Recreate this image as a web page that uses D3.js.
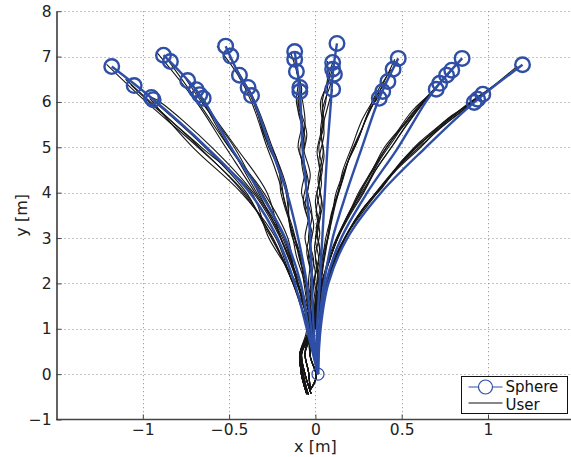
<!DOCTYPE html>
<html>
<head>
<meta charset="utf-8">
<script src="https://cdn.jsdelivr.net/npm/d3@7"></script>
<style>
  body { margin: 0; background: #fff; }
  text { font-family: "DejaVu Sans", Verdana, sans-serif; }
</style>
</head>
<body>
<div id="chart"></div>
<script>
// tick values
var xTicks = [-1, -0.5, 0, 0.5, 1];
var yTicks = [-1, 0, 1, 2, 3, 4, 5, 6, 7, 8];

// sphere start point
var sphereStart = [0.015, 0];

// sphere paths, one per target direction (x, y in m)
var spherePaths = [
    [[0.015, 0], [-0.05, 1], [-0.12, 2], [-0.22, 3], [-0.38, 4], [-0.63, 5], [-0.96, 6.12], [-1.18, 6.78]],
    [[0.015, 0], [-0.04, 1], [-0.085, 2], [-0.175, 3], [-0.32, 4], [-0.49, 5], [-0.67, 6.16], [-0.88, 7.03]],
    [[0.015, 0], [-0.025, 1], [-0.05, 2], [-0.10, 3], [-0.165, 4], [-0.26, 5], [-0.37, 6.14], [-0.44, 6.59], [-0.52, 7.23]],
    [[0.015, 0], [-0.01, 1], [-0.02, 2], [-0.03, 3], [-0.05, 4], [-0.075, 5], [-0.09, 6.23], [-0.12, 7.11]],
    [[0.015, 0], [0.01, 1], [0.025, 2], [0.04, 3], [0.055, 4], [0.07, 5], [0.09, 6], [0.10, 6.6], [0.125, 7.29]],
    [[0.015, 0], [0.02, 1], [0.05, 2], [0.10, 3], [0.18, 4], [0.27, 5], [0.37, 6.08], [0.48, 6.96]],
    [[0.015, 0], [0.025, 1], [0.06, 2], [0.15, 3], [0.30, 4], [0.48, 5], [0.64, 6], [0.72, 6.41], [0.85, 6.96]],
    [[0.015, 0], [0.03, 1], [0.075, 2], [0.185, 3], [0.38, 4], [0.64, 5], [0.92, 5.99], [1.2, 6.82]]
];

// sphere end points of every trial
var sphereEnds = [
    [-1.18, 6.78], [-1.05, 6.36], [-0.95, 6.10], [-0.94, 6.05],
    [-0.88, 7.03], [-0.84, 6.89], [-0.74, 6.47], [-0.69, 6.27], [-0.67, 6.16], [-0.65, 6.08],
    [-0.52, 7.23], [-0.49, 7.01], [-0.44, 6.59], [-0.39, 6.32], [-0.37, 6.14],
    [-0.12, 7.11], [-0.12, 6.94], [-0.11, 6.67], [-0.09, 6.32], [-0.09, 6.23],
    [0.125, 7.29], [0.10, 6.87], [0.10, 6.72], [0.11, 6.61], [0.10, 6.28],
    [0.48, 6.96], [0.45, 6.72], [0.42, 6.45], [0.39, 6.23], [0.37, 6.08],
    [0.85, 6.96], [0.79, 6.70], [0.76, 6.59], [0.72, 6.41], [0.70, 6.28],
    [1.20, 6.82], [0.97, 6.17], [0.94, 6.06], [0.92, 5.99]
];

// user trajectories, grouped by target
var userG1 = [
    [[-0.04, -0.45], [-0.075, -0.05], [-0.09, 0.45], [-0.05, 1], [-0.09, 1.6], [-0.13, 2], [-0.25, 3], [-0.41, 4], [-0.68, 5], [-0.98, 6], [-1.21, 6.83]],
    [[-0.03, -0.38], [-0.04, 0.05], [-0.06, 0.45], [-0.04, 1], [-0.07, 1.5], [-0.11, 2], [-0.27, 3], [-0.37, 4], [-0.66, 5], [-0.95, 5.95], [-1.07, 6.38]],
    [[-0.05, -0.44], [-0.085, 0.1], [-0.075, 0.6], [-0.03, 1.1], [-0.08, 1.6], [-0.14, 2.1], [-0.23, 3], [-0.43, 4], [-0.71, 5], [-0.96, 6.08]],
    [[-0.03, -0.35], [0.005, -0.05], [-0.03, 0.4], [-0.045, 0.95], [-0.1, 1.7], [-0.2, 2.6], [-0.3, 3.3], [-0.40, 4], [-0.64, 5], [-0.94, 6.03]],
    [[-0.025, -0.43], [-0.06, 0], [-0.08, 0.45], [-0.04, 1], [-0.085, 1.5], [-0.15, 2.2], [-0.26, 3.1], [-0.44, 4.1], [-0.7, 5.1], [-0.97, 6.05], [-1.1, 6.5]],
    [[-0.04, -0.45], [-0.075, -0.05], [-0.09, 0.45], [-0.035, 1.05], [-0.07, 1.6], [-0.12, 2.2], [-0.21, 3.05], [-0.36, 4], [-0.6, 5], [-0.9, 6], [-0.96, 6.12]]
];
var userG2 = [
    [[-0.04, -0.45], [-0.075, -0.05], [-0.09, 0.45], [-0.03, 1], [-0.06, 1.5], [-0.1, 2], [-0.19, 3], [-0.35, 4], [-0.52, 5], [-0.69, 6], [-0.92, 7.1]],
    [[-0.03, -0.38], [-0.04, 0.05], [-0.06, 0.45], [-0.03, 1.05], [-0.08, 1.7], [-0.12, 2.2], [-0.16, 3], [-0.3, 4], [-0.50, 5], [-0.68, 6], [-0.85, 6.9]],
    [[-0.05, -0.44], [-0.085, 0.1], [-0.075, 0.6], [-0.025, 1], [-0.05, 1.5], [-0.09, 2], [-0.2, 3], [-0.33, 4], [-0.47, 5], [-0.66, 6], [-0.75, 6.5]],
    [[-0.03, -0.35], [0.005, -0.05], [-0.03, 0.4], [-0.04, 1], [-0.07, 1.6], [-0.13, 2.3], [-0.21, 3.1], [-0.28, 4], [-0.46, 5], [-0.65, 6], [-0.7, 6.28]],
    [[-0.025, -0.43], [-0.06, 0], [-0.08, 0.45], [-0.035, 1], [-0.06, 1.5], [-0.1, 2], [-0.17, 2.9], [-0.31, 4], [-0.5, 5], [-0.67, 6.16]],
    [[-0.045, -0.4], [-0.07, 0], [-0.085, 0.4], [-0.03, 0.95], [-0.065, 1.55], [-0.11, 2.1], [-0.18, 3], [-0.34, 4], [-0.49, 5], [-0.65, 6.08]]
];
var userG3 = [
    [[-0.04, -0.45], [-0.075, -0.05], [-0.09, 0.45], [-0.03, 1], [-0.04, 1.5], [-0.06, 2], [-0.11, 2.6], [-0.13, 3], [-0.19, 4], [-0.24, 4.6], [-0.28, 5], [-0.37, 6], [-0.45, 6.6], [-0.57, 7.23]],
    [[-0.03, -0.38], [-0.04, 0.05], [-0.06, 0.45], [-0.025, 1], [-0.05, 1.6], [-0.07, 2.1], [-0.09, 2.6], [-0.14, 3.1], [-0.17, 4], [-0.22, 4.7], [-0.25, 5], [-0.35, 6], [-0.5, 7]],
    [[-0.05, -0.44], [-0.085, 0.1], [-0.075, 0.6], [-0.02, 1], [-0.03, 1.5], [-0.05, 2], [-0.09, 2.5], [-0.12, 3], [-0.2, 4], [-0.21, 4.5], [-0.27, 5], [-0.36, 6], [-0.44, 6.59]],
    [[-0.03, -0.35], [0.005, -0.05], [-0.03, 0.4], [-0.03, 0.95], [-0.045, 1.6], [-0.06, 2.2], [-0.1, 2.8], [-0.15, 3.3], [-0.16, 4], [-0.23, 4.8], [-0.3, 5.3], [-0.35, 6], [-0.39, 6.32]],
    [[-0.025, -0.43], [-0.06, 0], [-0.08, 0.45], [-0.02, 1.05], [-0.035, 1.5], [-0.055, 2], [-0.08, 2.4], [-0.13, 3.2], [-0.18, 3.8], [-0.2, 4.3], [-0.26, 5], [-0.33, 5.7], [-0.37, 6.14]]
];
var userG4 = [
    [[-0.04, -0.45], [-0.075, -0.05], [-0.09, 0.45], [-0.03, 1], [-0.02, 1.5], [-0.04, 2], [-0.03, 2.5], [-0.06, 3], [-0.04, 3.5], [-0.08, 4], [-0.06, 4.5], [-0.1, 5], [-0.08, 5.5], [-0.11, 6], [-0.1, 6.5], [-0.145, 7.1]],
    [[-0.03, -0.38], [-0.04, 0.05], [-0.06, 0.45], [-0.025, 1], [-0.035, 1.6], [-0.02, 2.1], [-0.05, 2.7], [-0.03, 3.2], [-0.07, 3.8], [-0.05, 4.3], [-0.09, 4.9], [-0.07, 5.4], [-0.1, 6], [-0.09, 6.4], [-0.12, 6.94]],
    [[-0.05, -0.44], [-0.085, 0.1], [-0.075, 0.6], [-0.02, 1], [-0.04, 1.5], [-0.01, 2], [-0.04, 2.6], [-0.02, 3.1], [-0.06, 3.7], [-0.04, 4.2], [-0.07, 4.8], [-0.05, 5.3], [-0.09, 5.9], [-0.08, 6.3], [-0.11, 6.67]],
    [[-0.03, -0.35], [0.005, -0.05], [-0.03, 0.4], [-0.03, 0.95], [-0.01, 1.5], [-0.03, 2], [-0.01, 2.5], [-0.04, 3], [-0.02, 3.5], [-0.05, 4.1], [-0.08, 4.7], [-0.06, 5.2], [-0.1, 5.8], [-0.09, 6.32]],
    [[-0.025, -0.43], [-0.06, 0], [-0.08, 0.45], [-0.02, 1.05], [-0.03, 1.6], [0, 2.2], [-0.03, 2.8], [-0.01, 3.3], [-0.05, 3.9], [-0.03, 4.4], [-0.07, 5], [-0.06, 5.6], [-0.085, 6.23]]
];
var userG5 = [
    [[-0.04, -0.45], [-0.075, -0.05], [-0.09, 0.45], [-0.02, 1], [0, 1.5], [-0.01, 2], [0.02, 2.5], [0, 3], [0.03, 3.5], [0.01, 4], [0.04, 4.5], [0.02, 5], [0.05, 5.5], [0.04, 6], [0.07, 6.5], [0.07, 6.9]],
    [[-0.03, -0.38], [-0.04, 0.05], [-0.06, 0.45], [-0.02, 1], [0.01, 1.6], [-0.005, 2.1], [0.025, 2.7], [0.005, 3.2], [0.035, 3.8], [0.015, 4.3], [0.045, 4.9], [0.03, 5.4], [0.06, 6], [0.08, 6.6], [0.10, 6.87]],
    [[-0.05, -0.44], [-0.085, 0.1], [-0.075, 0.6], [-0.015, 1], [-0.005, 1.5], [0.015, 2.2], [-0.005, 2.8], [0.02, 3.3], [0, 3.8], [0.03, 4.4], [0.01, 4.9], [0.04, 5.5], [0.03, 6], [0.07, 6.4], [0.10, 6.72]],
    [[-0.03, -0.35], [0.005, -0.05], [-0.03, 0.4], [-0.025, 0.95], [0.005, 1.5], [0.02, 2], [0, 2.6], [0.025, 3.1], [0.005, 3.6], [0.035, 4.2], [0.02, 4.7], [0.05, 5.3], [0.04, 5.8], [0.08, 6.3], [0.11, 6.61]],
    [[-0.025, -0.43], [-0.06, 0], [-0.08, 0.45], [-0.02, 1.05], [0, 1.6], [0.01, 2.1], [0.03, 2.6], [0.01, 3.2], [0.04, 3.7], [0.02, 4.2], [0.05, 4.8], [0.035, 5.3], [0.065, 5.8], [0.10, 6.28]]
];
var userG6 = [
    [[-0.04, -0.45], [-0.075, -0.05], [-0.09, 0.45], [-0.02, 1], [0, 1.5], [0.02, 2], [0.04, 2.5], [0.06, 3], [0.1, 3.6], [0.12, 4], [0.17, 4.5], [0.22, 5], [0.28, 5.5], [0.34, 6], [0.38, 6.3], [0.46, 6.94]],
    [[-0.03, -0.38], [-0.04, 0.05], [-0.06, 0.45], [-0.015, 1], [0.01, 1.6], [0.03, 2.1], [0.05, 2.6], [0.08, 3.1], [0.1, 3.6], [0.14, 4.1], [0.18, 4.6], [0.24, 5.1], [0.29, 5.6], [0.34, 6.1], [0.44, 6.72]],
    [[-0.05, -0.44], [-0.085, 0.1], [-0.075, 0.6], [-0.01, 1], [0.005, 1.5], [0.025, 2], [0.035, 2.5], [0.07, 3], [0.09, 3.5], [0.13, 4], [0.16, 4.5], [0.21, 5], [0.27, 5.6], [0.33, 6], [0.41, 6.45]],
    [[-0.03, -0.35], [0.005, -0.05], [-0.03, 0.4], [-0.02, 0.95], [0.01, 1.5], [0.03, 2.1], [0.06, 2.7], [0.08, 3.2], [0.11, 3.7], [0.15, 4.2], [0.19, 4.7], [0.25, 5.2], [0.3, 5.7], [0.38, 6.23]],
    [[-0.025, -0.43], [-0.06, 0], [-0.08, 0.45], [-0.01, 1.05], [0.015, 1.6], [0.04, 2.2], [0.055, 2.7], [0.09, 3.3], [0.12, 3.8], [0.16, 4.3], [0.2, 4.8], [0.26, 5.3], [0.31, 5.8], [0.36, 6.08]]
];
var userG7 = [
    [[-0.04, -0.45], [-0.075, -0.05], [-0.09, 0.45], [-0.015, 1], [0.01, 1.5], [0.04, 2], [0.08, 2.5], [0.13, 3], [0.2, 3.5], [0.28, 4], [0.35, 4.5], [0.44, 5], [0.53, 5.5], [0.63, 6], [0.72, 6.4], [0.85, 6.96]],
    [[-0.03, -0.38], [-0.04, 0.05], [-0.06, 0.45], [-0.01, 1], [0.02, 1.6], [0.05, 2.1], [0.1, 2.7], [0.15, 3.2], [0.22, 3.7], [0.27, 4.1], [0.36, 4.7], [0.43, 5.1], [0.54, 5.6], [0.65, 6.1], [0.79, 6.7]],
    [[-0.05, -0.44], [-0.085, 0.1], [-0.075, 0.6], [-0.005, 1], [0.015, 1.5], [0.035, 2], [0.07, 2.4], [0.12, 2.9], [0.19, 3.5], [0.25, 4], [0.33, 4.5], [0.4, 5], [0.51, 5.5], [0.6, 5.9], [0.76, 6.59]],
    [[-0.03, -0.35], [0.005, -0.05], [-0.03, 0.4], [-0.01, 0.95], [0.02, 1.5], [0.045, 2.1], [0.09, 2.6], [0.14, 3.1], [0.2, 3.6], [0.3, 4.2], [0.37, 4.7], [0.46, 5.2], [0.55, 5.7], [0.72, 6.41]],
    [[-0.025, -0.43], [-0.06, 0], [-0.08, 0.45], [-0.005, 1.05], [0.025, 1.6], [0.05, 2.2], [0.1, 2.8], [0.16, 3.3], [0.23, 3.8], [0.29, 4.2], [0.38, 4.8], [0.45, 5.2], [0.56, 5.8], [0.70, 6.28]],
    [[-0.045, -0.4], [-0.07, 0], [-0.085, 0.4], [-0.01, 1], [0.015, 1.55], [0.04, 2.05], [0.085, 2.55], [0.13, 3.05], [0.21, 3.6], [0.29, 4.1], [0.34, 4.45], [0.45, 5.05], [0.52, 5.45], [0.66, 6.15], [0.81, 6.8]]
];
var userG8 = [
    [[-0.04, -0.45], [-0.075, -0.05], [-0.09, 0.45], [-0.01, 1], [0.02, 1.5], [0.065, 2], [0.105, 2.5], [0.17, 3], [0.26, 3.5], [0.36, 4], [0.47, 4.5], [0.61, 5], [0.74, 5.5], [0.87, 5.9], [0.98, 6.2], [1.17, 6.79]],
    [[-0.03, -0.38], [-0.04, 0.05], [-0.06, 0.45], [-0.005, 1], [0.025, 1.6], [0.07, 2.1], [0.125, 2.6], [0.185, 3.1], [0.27, 3.6], [0.35, 4], [0.48, 4.6], [0.6, 5.1], [0.76, 5.6], [0.97, 6.17]],
    [[-0.05, -0.44], [-0.085, 0.1], [-0.075, 0.6], [0, 1], [0.03, 1.5], [0.06, 2], [0.115, 2.5], [0.16, 2.9], [0.25, 3.5], [0.375, 4.1], [0.49, 4.6], [0.63, 5.1], [0.78, 5.6], [0.94, 6.06]],
    [[-0.03, -0.35], [0.005, -0.05], [-0.03, 0.4], [-0.005, 0.95], [0.035, 1.6], [0.08, 2.2], [0.135, 2.7], [0.2, 3.2], [0.285, 3.7], [0.385, 4.1], [0.5, 4.7], [0.64, 5.2], [0.79, 5.7], [0.92, 5.99]],
    [[-0.025, -0.43], [-0.06, 0], [-0.08, 0.45], [-0.01, 1], [0.025, 1.55], [0.065, 2.05], [0.11, 2.55], [0.175, 3.05], [0.27, 3.6], [0.33, 3.9], [0.45, 4.45], [0.57, 4.95], [0.72, 5.45], [0.88, 5.95], [1.05, 6.4], [1.19, 6.8]],
    [[-0.045, -0.4], [-0.07, 0], [-0.085, 0.4], [-0.005, 1.05], [0.03, 1.5], [0.075, 2.1], [0.12, 2.55], [0.19, 3.15], [0.275, 3.65], [0.39, 4.15], [0.51, 4.7], [0.63, 5.15], [0.8, 5.65], [0.95, 6.1]]
];

var userPaths = [].concat(userG1, userG2, userG3, userG4, userG5, userG6, userG7, userG8);

var blue = "#2f4fa6";

drawChart();

function drawChart() {
    var width = 571,
        height = 457;

    // scales fitted to the plot box
    var x = d3.scaleLinear()
        .domain([-1.5, 1.5])
        .range([56.5, 574.3]);
    var y = d3.scaleLinear()
        .domain([-1, 8])
        .range([419.5, 11.2]);

    var svg = d3.select("#chart").append("svg")
        .attr("width", width)
        .attr("height", height);

    // dotted grid
    svg.append("g").selectAll("line")
        .data(xTicks)
        .enter().append("line")
        .attr("x1", function (d) { return Math.round(x(d)) + 0.5; })
        .attr("x2", function (d) { return Math.round(x(d)) + 0.5; })
        .attr("y1", y(8))
        .attr("y2", y(-1))
        .attr("stroke", "#8a8a8a")
        .attr("stroke-dasharray", "1,3");

    svg.append("g").selectAll("line")
        .data(yTicks.filter(function (d) { return d > -1; }))
        .enter().append("line")
        .attr("x1", x(-1.5))
        .attr("x2", width)
        .attr("y1", function (d) { return Math.round(y(d)) + 0.5; })
        .attr("y2", function (d) { return Math.round(y(d)) + 0.5; })
        .attr("stroke", "#8a8a8a")
        .attr("stroke-dasharray", "1,3");

    var line = d3.line()
        .x(function (d) { return x(d[0]); })
        .y(function (d) { return y(d[1]); })
        .curve(d3.curveCatmullRom.alpha(0.5));

    // user trajectories
    svg.append("g").selectAll("path")
        .data(userPaths)
        .enter().append("path")
        .attr("d", line)
        .attr("fill", "none")
        .attr("stroke", "#161616")
        .attr("stroke-width", 1.1);

    // sphere trajectories
    svg.append("g").selectAll("path")
        .data(spherePaths)
        .enter().append("path")
        .attr("d", line)
        .attr("fill", "none")
        .attr("stroke", blue)
        .attr("stroke-width", 2.4);

    // sphere end markers
    svg.append("g").selectAll("circle")
        .data(sphereEnds)
        .enter().append("circle")
        .attr("cx", function (d) { return x(d[0]); })
        .attr("cy", function (d) { return y(d[1]); })
        .attr("r", 7.3)
        .attr("fill", "none")
        .attr("stroke", blue)
        .attr("stroke-width", 2.4);

    svg.append("circle")
        .attr("cx", x(sphereStart[0]))
        .attr("cy", y(sphereStart[1]))
        .attr("r", 6)
        .attr("fill", "none")
        .attr("stroke", blue)
        .attr("stroke-width", 1.2);

    // axes, ticks pointing inward
    var xAxis = svg.append("g")
        .attr("transform", "translate(0," + y(-1) + ")")
        .call(d3.axisBottom(x)
            .tickValues(xTicks)
            .tickSizeInner(-5)
            .tickSizeOuter(0)
            .tickPadding(4)
            .tickFormat(function (d) { return String(d).replace("-", "\u2212"); }));

    var yAxis = svg.append("g")
        .attr("transform", "translate(" + x(-1.5) + ",0)")
        .call(d3.axisLeft(y)
            .tickValues(yTicks)
            .tickSizeInner(-5)
            .tickSizeOuter(0)
            .tickPadding(5)
            .tickFormat(function (d) { return String(d).replace("-", "\u2212"); }));

    xAxis.select(".domain").attr("stroke", "#444").attr("stroke-width", 1.6)
        .attr("d", "M" + x(-1.5) + ",0H" + width);
    yAxis.select(".domain").attr("stroke", "#222").attr("stroke-width", 1.4);
    svg.selectAll(".tick line").attr("stroke", "#444");
    svg.selectAll(".tick text")
        .attr("font-size", 15.5)
        .attr("fill", "#222")
        .style("font-family", "DejaVu Sans");

    // axis titles
    svg.append("text")
        .attr("x", x(0))
        .attr("y", 452)
        .attr("text-anchor", "middle")
        .attr("font-size", 16)
        .attr("fill", "#222")
        .text("x [m]");

    svg.append("text")
        .attr("transform", "translate(27," + y(3.5) + ")rotate(-90)")
        .attr("text-anchor", "middle")
        .attr("font-size", 16)
        .attr("fill", "#222")
        .text("y [m]");

    // legend
    var legend = svg.append("g")
        .attr("transform", "translate(461.5,376.5)");
    legend.append("rect")
        .attr("width", 106)
        .attr("height", 37)
        .attr("fill", "#fff")
        .attr("stroke", "#111")
        .attr("stroke-width", 1);
    legend.append("line")
        .attr("x1", 7).attr("x2", 41)
        .attr("y1", 10.5).attr("y2", 10.5)
        .attr("stroke", blue)
        .attr("stroke-width", 1);
    legend.append("circle")
        .attr("cx", 24).attr("cy", 10.5)
        .attr("r", 7)
        .attr("fill", "#fff")
        .attr("stroke", blue)
        .attr("stroke-width", 1.2);
    legend.append("text")
        .attr("x", 44).attr("y", 15.5)
        .attr("font-size", 15)
        .attr("fill", "#111")
        .text("Sphere");
    legend.append("line")
        .attr("x1", 7).attr("x2", 41)
        .attr("y1", 26.5).attr("y2", 26.5)
        .attr("stroke", "#111")
        .attr("stroke-width", 1);
    legend.append("text")
        .attr("x", 44).attr("y", 33.5)
        .attr("font-size", 15)
        .attr("fill", "#111")
        .text("User");
}
</script>
</body>
</html>
